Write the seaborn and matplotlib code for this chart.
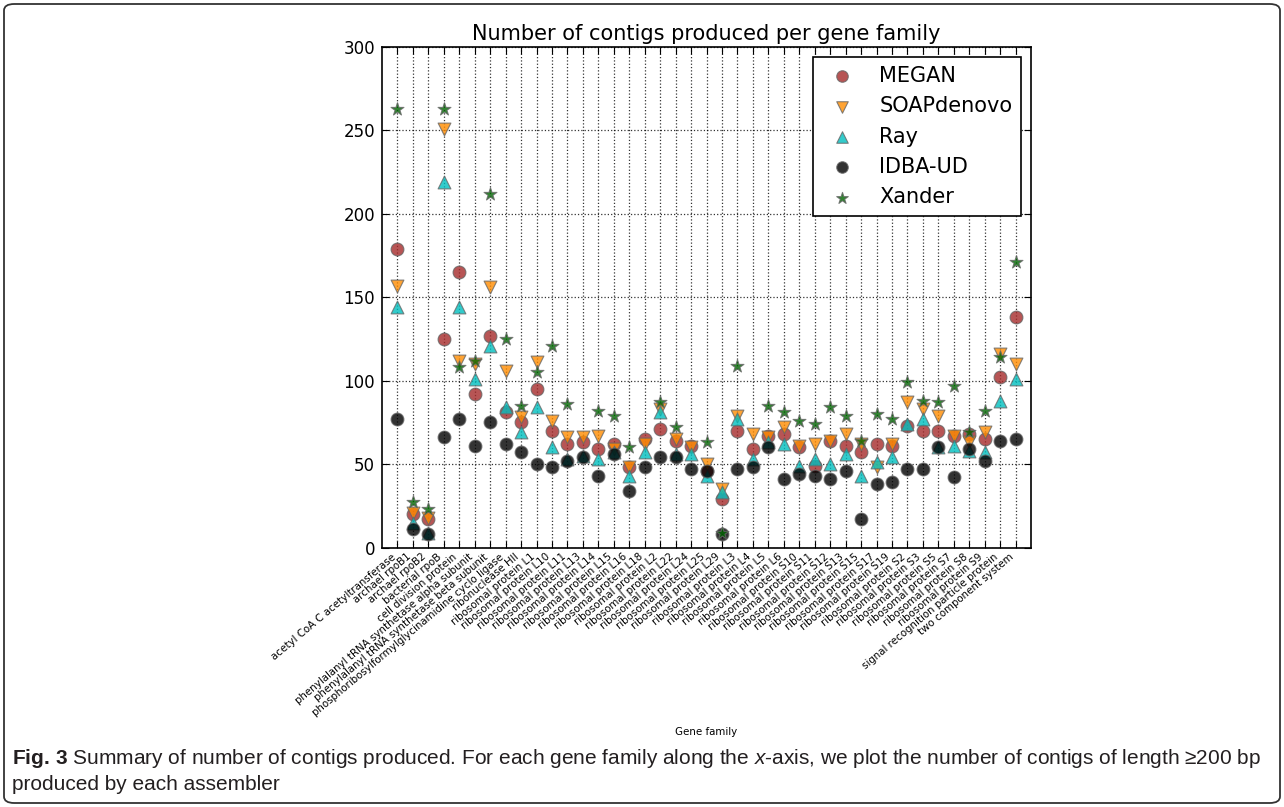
import numpy as np
import pandas as pd
import matplotlib
matplotlib.use("Agg")
import matplotlib.pyplot as plt
from matplotlib.patches import FancyBboxPatch
import seaborn as sns

families = [
    "acetyl CoA C acetyltransferase", "archael rpoB1", "archael rpoB2", "bacterial rpoB",
    "cell division protein", "phenylalanyl tRNA synthetase alpha subunit",
    "phenylalanyl tRNA synthetase beta subunit",
    "phosphoribosylformylglycinamidine cyclo ligase", "ribonuclease HII",
    "ribosomal protein L1", "ribosomal protein L10", "ribosomal protein L11",
    "ribosomal protein L13", "ribosomal protein L14", "ribosomal protein L15",
    "ribosomal protein L16", "ribosomal protein L18", "ribosomal protein L2",
    "ribosomal protein L22", "ribosomal protein L24", "ribosomal protein L25",
    "ribosomal protein L29", "ribosomal protein L3", "ribosomal protein L4",
    "ribosomal protein L5", "ribosomal protein L6", "ribosomal protein S10",
    "ribosomal protein S11", "ribosomal protein S12", "ribosomal protein S13",
    "ribosomal protein S15", "ribosomal protein S17", "ribosomal protein S19",
    "ribosomal protein S2", "ribosomal protein S3", "ribosomal protein S5",
    "ribosomal protein S7", "ribosomal protein S8", "ribosomal protein S9",
    "signal recognition particle protein", "two component system",
]

megan = [179, 20, 17, 125, 165, 92, 127, 81, 75, 95, 70, 62, 63, 59, 62, 48, 65, 71, 64, 61,
         46, 29, 70, 59, 67, 68, 60, 49, 64, 61, 57, 62, 61, 73, 70, 70, 67, 68, 65, 102, 138]
soapdenovo = [157, 21, 18, 251, 112, 110, 156, 106, 78, 111, 76, 66, 66, 67, 59, 48, 62, 83, 65, 60,
              50, 35, 79, 68, 66, 72, 61, 62, 64, 68, 62, 48, 62, 87, 83, 79, 67, 63, 69, 116, 110]
ray = [144, 15, 9, 219, 144, 101, 121, 84, 69, 84, 60, 53, 55, 53, 57, 43, 57, 81, 56, 56,
       43, 33, 77, 53, 63, 62, 49, 53, 50, 56, 43, 51, 54, 74, 77, 60, 61, 58, 57, 88, 101]
idba_ud = [77, 11, 8, 66, 77, 61, 75, 62, 57, 50, 48, 52, 54, 43, 56, 34, 48, 54, 54, 47,
           46, 8, 47, 48, 60, 41, 44, 43, 41, 46, 17, 38, 39, 47, 47, 60, 42, 59, 52, 64, 65]
xander = [263, 27, 23, 263, 108, 112, 212, 125, 85, 105, 121, 86, np.nan, 82, 79, 60, np.nan, 87, 72, np.nan,
          63, 9, 109, np.nan, 85, 81, 76, 74, 84, 79, 64, 80, 77, 99, 88, 87, 97, 69, 82, 114, 171]

assemblers = ["MEGAN", "SOAPdenovo", "Ray", "IDBA-UD", "Xander"]
series = [megan, soapdenovo, ray, idba_ud, xander]
colors = {"MEGAN": "#a52a2a", "SOAPdenovo": "#ff8c00", "Ray": "#00bfbf",
          "IDBA-UD": "#000000", "Xander": "#006400"}
markers = {"MEGAN": "o", "SOAPdenovo": "v", "Ray": "^", "IDBA-UD": "o", "Xander": "*"}
sizes = {"MEGAN": 85, "SOAPdenovo": 85, "Ray": 85, "IDBA-UD": 85, "Xander": 95}

df = pd.concat([
    pd.DataFrame({"family": families, "count": vals, "assembler": name})
    for name, vals in zip(assemblers, series)
], ignore_index=True)

plt.rcParams.update({
    "font.family": ["DejaVu Sans"],
    "xtick.direction": "in", "ytick.direction": "in",
    "xtick.top": True, "ytick.right": True,
    "xtick.major.size": 5, "ytick.major.size": 5,
    "axes.linewidth": 1.2,
    "mathtext.fontset": "custom",
    "mathtext.rm": "Liberation Sans",
    "mathtext.it": "Liberation Sans:italic",
    "mathtext.bf": "Liberation Sans:bold",
})

fig = plt.figure(figsize=(12.84, 8.07), dpi=100)
ax = fig.add_axes([0.2975, 0.3215, 0.5055, 0.6203])

ax.grid(True, color="black", linestyle=":", linewidth=0.9, alpha=0.8)
ax.set_axisbelow(True)

for name in assemblers:
    sub = df[df["assembler"] == name]
    sns.scatterplot(data=sub, x="family", y="count", ax=ax, marker=markers[name],
                    color=colors[name], s=sizes[name], alpha=0.8,
                    edgecolor="0.4", linewidth=0.8, label=name, zorder=3)

ax.set_xlim(-1, len(families))
ax.set_ylim(0, 300)
ax.set_yticks(np.arange(0, 301, 50))
ax.set_xticks(range(len(families)))
ax.set_xticklabels(families, rotation=40, ha="right", fontsize=7.4)
ax.tick_params(axis="y", labelsize=12, pad=5)
ax.tick_params(axis="x", pad=3)
ax.set_xlabel("Gene family", fontsize=7.4, labelpad=7)
ax.set_ylabel("")
ax.set_title("Number of contigs produced per gene family", fontsize=15, pad=5)

leg = ax.legend(loc="upper right", fontsize=15, frameon=True, fancybox=False,
                edgecolor="black", framealpha=1, scatterpoints=1, borderpad=0.4,
                labelspacing=0.5, handletextpad=0.8, handlelength=2.0, markerscale=0.9)
leg.get_frame().set_linewidth(1.2)

# caption and border
cap_font = ["Liberation Sans", "DejaVu Sans"]
cap1 = fig.text(12 / 1284, 1 - 759 / 807,
                r"$\mathbf{Fig.}\,\mathbf{3}$ Summary of number of contigs produced. For each gene family along the $x$-axis, "
                "we plot the number of contigs of length \u2265200 bp",
                fontsize=14, family=cap_font, color="#231f20", va="center", ha="left")
cap2 = fig.text(12 / 1284, 1 - 784 / 807, "produced by each assembler",
                fontsize=14, family=cap_font, color="#231f20", va="center", ha="left")
fig.canvas.draw()
w = cap1.get_window_extent().width
fs = 14 * 1253.0 / w
cap1.set_fontsize(fs)
cap2.set_fontsize(fs)

border = FancyBboxPatch((4 / 1284, 4 / 807), 1276 / 1284, 799 / 807,
                        boxstyle="round,pad=0,rounding_size=0.008",
                        transform=fig.transFigure, fill=False,
                        edgecolor="#333333", linewidth=1.3)
fig.patches.append(border)

fig.savefig("out.png", dpi=100)
